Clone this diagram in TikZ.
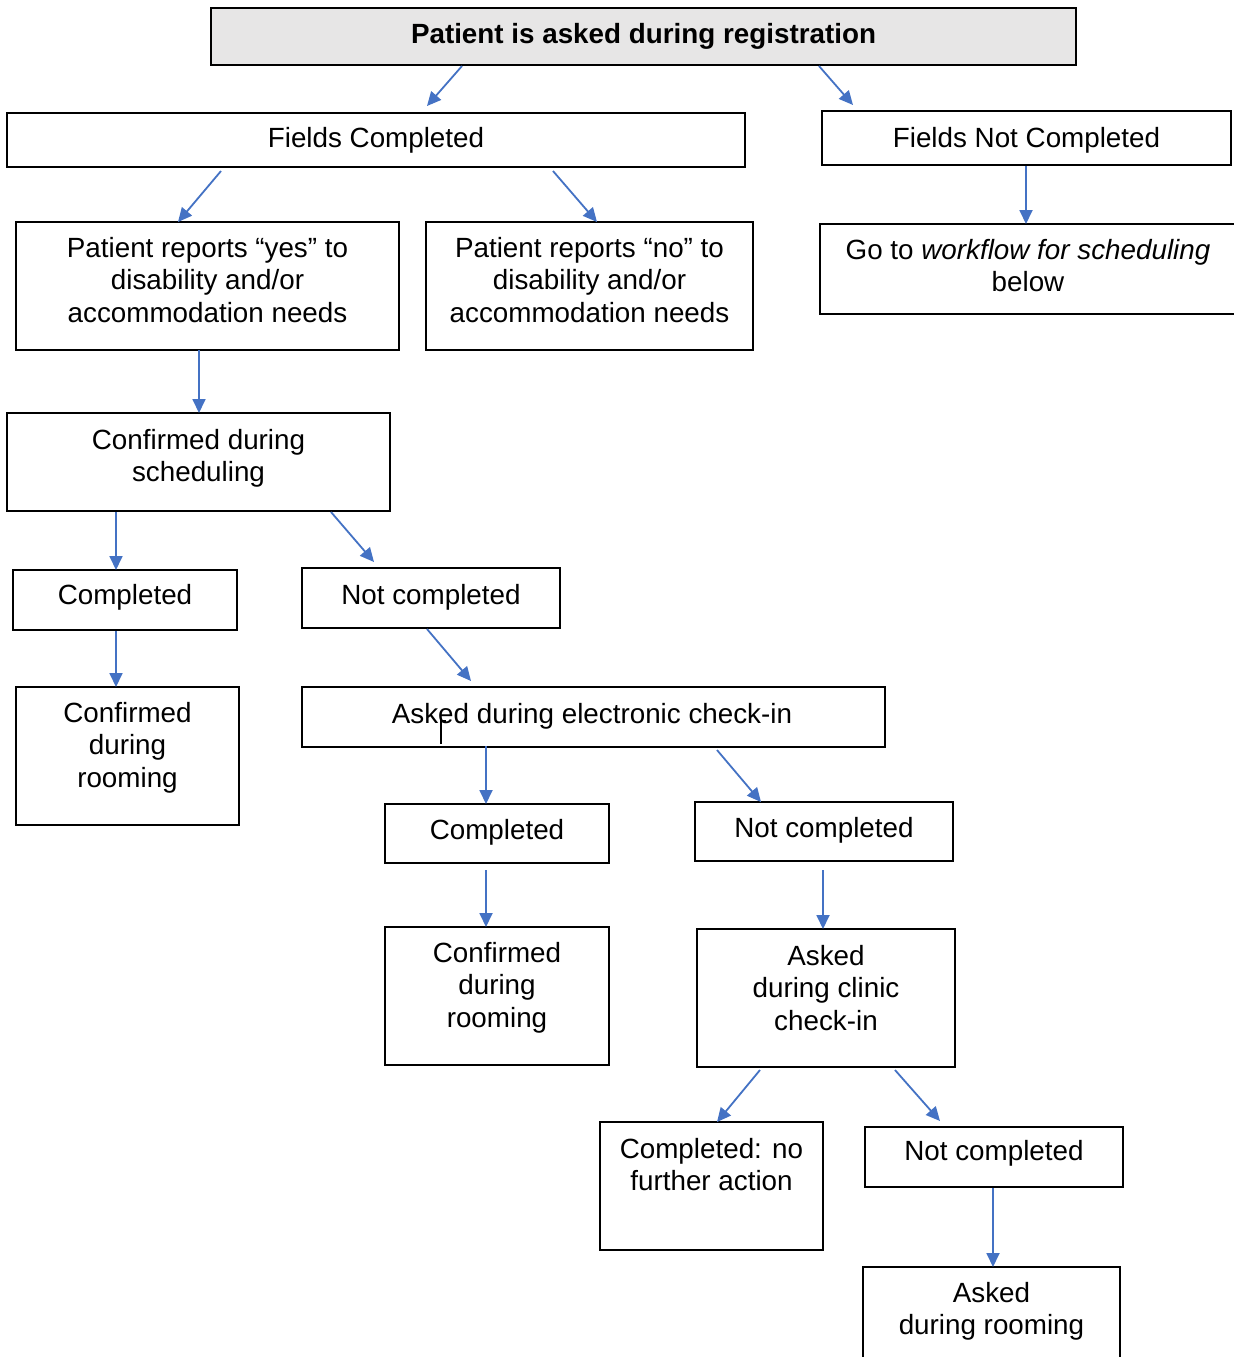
\documentclass[tikz,border=0pt]{standalone}
\usepackage{fontspec}
\setmainfont{Liberation Sans}
\usetikzlibrary{fit,arrows.meta}
\definecolor{arrblue}{RGB}{68,114,196}
\definecolor{topgray}{RGB}{231,230,230}
\begin{document}
\begin{tikzpicture}[x=0.5pt,y=-0.5pt,
  boxst/.style={draw=black,line width=0.9pt,inner sep=0pt,outer sep=0pt},
  txt/.style={inner sep=0pt,outer sep=0pt,align=center,anchor=north,
    font=\fontsize{13.9}{16.25}\selectfont},
  arrow/.style={draw=arrblue,line width=0.9pt,-{Triangle[length=7pt,width=6.5pt]}}]
\useasboundingbox (0,0) rectangle (1234,1357);
\clip (0,0) rectangle (1234,1357);
\fill[white] (0,0) rectangle (1234,1357);

% boxes
\node[boxst,fill=topgray,fit={(211,8) (1076,65)}] (top) {};
\node[boxst,fit={(7,113) (745,167)}] (fc) {};
\node[boxst,fit={(822,111) (1231,165)}] (fnc) {};
\node[boxst,fit={(16,222) (399,350)}] (yes) {};
\node[boxst,fit={(426,222) (753,350)}] (no) {};
\node[boxst,fit={(820,224) (1238,314)}] (go) {};
\node[boxst,fit={(7,413) (390,511)}] (sched) {};
\node[boxst,fit={(13,570) (237,630)}] (compL) {};
\node[boxst,fit={(302,568) (560,628)}] (ncL) {};
\node[boxst,fit={(16,687) (239,825)}] (roomL) {};
\node[boxst,fit={(302,687) (885,747)}] (elec) {};
\node[boxst,fit={(385,804) (609,863)}] (compM) {};
\node[boxst,fit={(695,802) (953,861)}] (ncM) {};
\node[boxst,fit={(385,927) (609,1065)}] (roomM) {};
\node[boxst,fit={(697,929) (955,1067)}] (clinic) {};
\node[boxst,fit={(600,1122) (823,1250)}] (cnfa) {};
\node[boxst,fit={(865,1127) (1123,1187)}] (ncR) {};
\node[boxst,fit={(863,1267) (1120,1380)}] (roomR) {};

% texts
\node[txt,font=\fontsize{13.9}{16.25}\selectfont\bfseries] (t-top) at (643.5,23) {Patient is asked during registration};
\node[txt] (t-fc) at (376,127) {Fields Completed};
\node[txt] (t-fnc) at (1026.5,127) {Fields Not Completed};
\node[txt] (t-yes) at (207.5,237) {Patient reports “yes” to\\disability and/or\\accommodation needs};
\node[txt] (t-no) at (589.5,237) {Patient reports “no” to\\disability and/or\\accommodation needs};
\node[txt] (t-go) at (1028,239) {Go to \textit{workflow for scheduling}\\below};
\node[txt] (t-sched) at (198.5,429) {Confirmed during\\scheduling};
\node[txt] (t-compL) at (125,584) {Completed};
\node[txt] (t-ncL) at (431,584) {Not completed};
\node[txt] (t-roomL) at (127.5,702) {Confirmed\\during\\rooming};
\node[txt] (t-elec) at (592,703) {Asked during electronic check-in};
\node[txt] (t-compM) at (497,819) {Completed};
\node[txt] (t-ncM) at (824,817) {Not completed};
\node[txt] (t-roomM) at (497,942) {Confirmed\\during\\rooming};
\node[txt] (t-clinic) at (826,945) {Asked\\during clinic\\check-in};
\node[txt] (t-cnfa) at (711.5,1138) {Completed: no\\further action};
\node[txt] (t-ncR) at (994,1140) {Not completed};
\node[txt] (t-roomR) at (991.5,1282) {Asked\\during rooming};

% stray cursor mark
\draw[line width=0.6pt] (441,744) -- (441,721) -- (446,721);

% connectors
\draw[arrow] ([shift={(462-211,66-8)}]top.north west) -- ([shift={(427-7,106-113)}]fc.north west);
\draw[arrow] ([shift={(819-211,66-8)}]top.north west) -- ([shift={(853-822,105-111)}]fnc.north west);
\draw[arrow] ([shift={(221-7,171-113)}]fc.north west) -- ([shift={(178-16,222-222)}]yes.north west);
\draw[arrow] ([shift={(553-7,171-113)}]fc.north west) -- ([shift={(597-426,222-222)}]no.north west);
\draw[arrow] ([shift={(1026-822,166-111)}]fnc.north west) -- ([shift={(1026-820,224-224)}]go.north west);
\draw[arrow] ([shift={(199-16,350-222)}]yes.north west) -- ([shift={(199-7,413-413)}]sched.north west);
\draw[arrow] ([shift={(116-7,512-413)}]sched.north west) -- ([shift={(116-13,570-570)}]compL.north west);
\draw[arrow] ([shift={(331-7,512-413)}]sched.north west) -- ([shift={(374-302,562-568)}]ncL.north west);
\draw[arrow] ([shift={(116-13,631-570)}]compL.north west) -- ([shift={(116-16,687-687)}]roomL.north west);
\draw[arrow] ([shift={(427-302,629-568)}]ncL.north west) -- ([shift={(471-302,681-687)}]elec.north west);
\draw[arrow] ([shift={(486-302,746-687)}]elec.north west) -- ([shift={(486-385,804-804)}]compM.north west);
\draw[arrow] ([shift={(717-302,750-687)}]elec.north west) -- ([shift={(761-695,802-802)}]ncM.north west);
\draw[arrow] ([shift={(486-385,870-804)}]compM.north west) -- ([shift={(486-385,927-927)}]roomM.north west);
\draw[arrow] ([shift={(823-695,870-802)}]ncM.north west) -- ([shift={(823-697,929-929)}]clinic.north west);
\draw[arrow] ([shift={(760-697,1070-929)}]clinic.north west) -- ([shift={(717-600,1122-1122)}]cnfa.north west);
\draw[arrow] ([shift={(895-697,1070-929)}]clinic.north west) -- ([shift={(940-865,1121-1127)}]ncR.north west);
\draw[arrow] ([shift={(993-865,1188-1127)}]ncR.north west) -- ([shift={(993-863,1267-1267)}]roomR.north west);
\end{tikzpicture}
\end{document}
